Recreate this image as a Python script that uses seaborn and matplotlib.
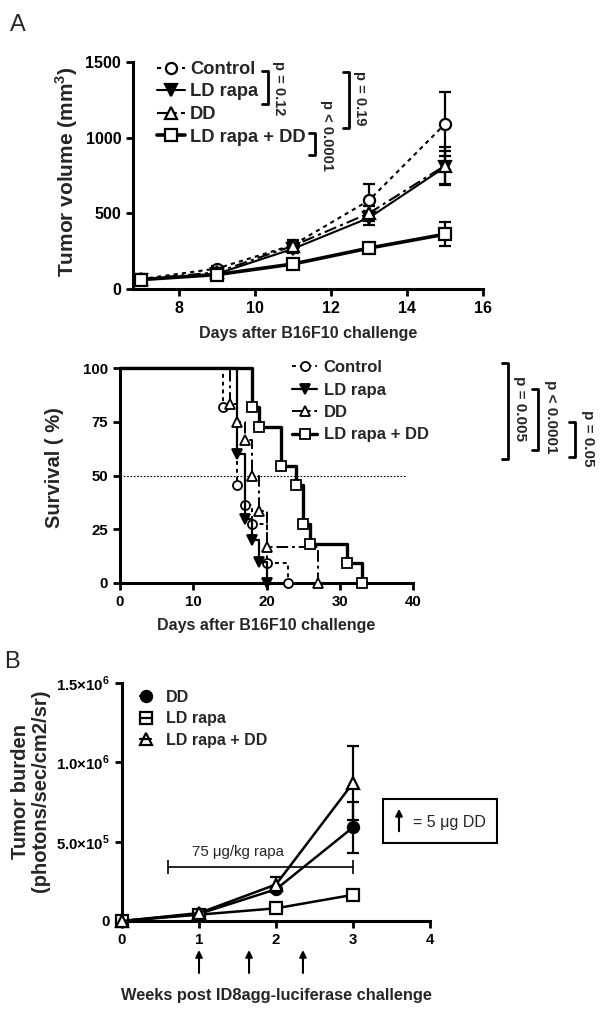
import numpy as np
import pandas as pd
import matplotlib
matplotlib.use("Agg")
import matplotlib.pyplot as plt
from matplotlib.lines import Line2D
from matplotlib.patches import Rectangle
import seaborn as sns

# ---- Panel A (top): tumor volume ----
days = [7, 9, 11, 13, 15]
vol_control = [65, 135, 290, 585, 1090]
vol_control_err = [10, 15, 35, 110, 210]
vol_ldrapa = [62, 100, 265, 470, 805]
vol_ldrapa_err = [8, 12, 30, 45, 110]
vol_dd = [65, 110, 285, 500, 815]
vol_dd_err = [8, 15, 35, 50, 125]
vol_combo = [62, 95, 165, 270, 362]
vol_combo_err = [8, 10, 15, 35, 80]

# ---- Panel A (bottom): Kaplan-Meier survival ----
surv_ctrl_t = [0, 14, 16, 17, 18, 20, 23]
surv_ctrl_s = [100, 81.8, 45.5, 36.4, 27.3, 9.1, 0]
surv_ld_t = [0, 16, 17, 18, 19, 20]
surv_ld_s = [100, 60, 30, 20, 10, 0]
surv_dd_t = [0, 15, 16, 17, 18, 19, 20, 27]
surv_dd_s = [100, 83.3, 75, 66.7, 50, 33.3, 16.7, 0]
surv_combo_t = [0, 18, 19, 22, 24, 25, 26, 31, 33]
surv_combo_s = [100, 81.8, 72.7, 54.5, 45.5, 27.3, 18.2, 9.1, 0]

# ---- Panel B: tumor burden ----
weeks = [0, 1, 2, 3]
burden_dd = [0, 45000, 200000, 590000]
burden_dd_err = [0, 8000, 20000, 160000]
burden_ld = [0, 40000, 80000, 165000]
burden_ld_err = [0, 5000, 8000, 15000]
burden_combo = [0, 50000, 230000, 870000]
burden_combo_err = [0, 8000, 50000, 235000]
burden_ticks = [0, 5e5, 1e6, 1.5e6]
burden_ticklabels = ["0", r"5.0×10$^{\mathbf{5}}$", r"1.0×10$^{\mathbf{6}}$", r"1.5×10$^{\mathbf{6}}$"]
dose_weeks = [1, 1.65, 2.35]
rapa_start, rapa_end = 0.6, 3.0

W, H = 606, 1015

sns.set_theme(style="ticks")
plt.rcParams['font.family'] = ['Liberation Sans', 'DejaVu Sans']
plt.rcParams['mathtext.fontset'] = 'custom'
plt.rcParams['mathtext.rm'] = 'Liberation Sans'
plt.rcParams['mathtext.bf'] = 'Liberation Sans:bold'
plt.rcParams['axes.linewidth'] = 2.2
plt.rcParams['xtick.major.width'] = 2.0
plt.rcParams['ytick.major.width'] = 2.0
plt.rcParams['xtick.major.size'] = 5
plt.rcParams['ytick.major.size'] = 5
plt.rcParams['xtick.color'] = 'black'
plt.rcParams['ytick.color'] = 'black'
plt.rcParams['axes.edgecolor'] = 'black'


def px_axes(fig, x0, y0, x1, y1):
    # axes box from pixel corners (top-left origin)
    return fig.add_axes([x0 / W, 1 - y1 / H, (x1 - x0) / W, (y1 - y0) / H])


def bracket(fig, x, y0, y1, label, tx, ty, size=10.5, w=6):
    xs = [(x - w) / W, x / W, x / W, (x - w) / W]
    ys = [1 - y0 / H, 1 - y0 / H, 1 - y1 / H, 1 - y1 / H]
    fig.add_artist(Line2D(xs, ys, color='black', lw=2.0, transform=fig.transFigure))
    fig.text(tx / W, 1 - ty / H, label, rotation=-90, ha='center', va='center',
             fontsize=size, fontweight='bold')


def style_ticks(ax, size):
    for lab in ax.get_xticklabels() + ax.get_yticklabels():
        lab.set_fontweight('bold')
        lab.set_fontsize(size)
    sns.despine(ax=ax)


fig = plt.figure(figsize=(W / 100, H / 100), dpi=100)

# ================= Panel A: tumor volume =================
ax1 = px_axes(fig, 133, 62, 483, 289)
series_a = [
    (vol_control, vol_control_err, 'Control', 'o', 'white', (0, (2, 2)), 1.5),
    (vol_ldrapa, vol_ldrapa_err, 'LD rapa', 'v', 'black', '-', 1.5),
    (vol_dd, vol_dd_err, 'DD', '^', 'white', (0, (6, 2, 1.5, 2)), 1.5),
    (vol_combo, vol_combo_err, 'LD rapa + DD', 's', 'white', '-', 2.6),
]
handles_a = []
for vals, err, name, mk, fc, ls, lw in series_a:
    df = pd.DataFrame({'day': days, 'vol': vals})
    sns.lineplot(data=df, x='day', y='vol', ax=ax1, color='black', linestyle=ls, lw=lw,
                 marker=mk, markersize=8, markerfacecolor=fc, markeredgecolor='black',
                 markeredgewidth=1.6, clip_on=False, zorder=3)
    ax1.errorbar(days, vals, yerr=err, fmt='none', ecolor='black', elinewidth=1.6,
                 capsize=4, capthick=1.6, zorder=2, clip_on=False)
    handles_a.append(Line2D([], [], color='black', linestyle=ls, lw=lw, marker=mk,
                            markersize=8, markerfacecolor=fc, markeredgecolor='black',
                            markeredgewidth=1.6, label=name))
ax1.set_xlim(6.8, 16)
ax1.set_ylim(0, 1500)
ax1.set_xticks([8, 10, 12, 14, 16])
ax1.set_yticks([0, 500, 1000, 1500])
ax1.set_xlabel('Days after B16F10 challenge', fontsize=11.5, fontweight='bold')
ax1.set_ylabel(r'Tumor volume (mm$^{\mathbf{3}}$)', fontsize=15, fontweight='bold')
ax1.xaxis.set_label_coords(0.5, -0.165)
ax1.yaxis.set_label_coords(-0.15, 0.515)
style_ticks(ax1, 11.5)
ax1.legend(handles=handles_a, loc='upper left', bbox_to_anchor=(157 / W, 1 - 61 / H),
           bbox_transform=fig.transFigure, frameon=False, borderpad=0, borderaxespad=0,
           handlelength=1.5, handletextpad=0.3, labelspacing=0.3,
           prop={'weight': 'bold', 'size': 13.2})
bracket(fig, 268, 71, 104, 'p = 0.12', 279, 88)
bracket(fig, 315, 133, 155, 'p < 0.0001', 327, 135)
bracket(fig, 349, 72, 128, 'p = 0.19', 360, 98)
fig.text(10 / W, 1 - 31 / H, 'A', fontsize=17, ha='left', va='baseline')

# ================= Panel A: survival =================
ax2 = px_axes(fig, 120, 368, 413, 583)
series_s = [
    (surv_ctrl_t, surv_ctrl_s, 'Control', 'o', 'white', (0, (2, 2)), 1.4),
    (surv_ld_t, surv_ld_s, 'LD rapa', 'v', 'black', '-', 1.6),
    (surv_dd_t, surv_dd_s, 'DD', '^', 'white', (0, (6, 2, 1.5, 2)), 1.4),
    (surv_combo_t, surv_combo_s, 'LD rapa + DD', 's', 'white', '-', 2.4),
]
handles_s = []
for t, s, name, mk, fc, ls, lw in series_s:
    df = pd.DataFrame({'t': t, 's': s})
    sns.lineplot(data=df, x='t', y='s', ax=ax2, color='black', linestyle=ls, lw=lw,
                 drawstyle='steps-post', marker=mk, markevery=list(range(1, len(t))),
                 markersize=6.5, markerfacecolor=fc, markeredgecolor='black',
                 markeredgewidth=1.3, clip_on=False, zorder=3)
    handles_s.append(Line2D([], [], color='black', linestyle=ls, lw=lw, marker=mk,
                            markersize=6.5, markerfacecolor=fc, markeredgecolor='black',
                            markeredgewidth=1.3, label=name))
ax2.plot([0, 39], [50, 50], color='black', lw=0.8, linestyle=(0, (1.5, 1.5)), zorder=1)
ax2.set_xlim(0, 40)
ax2.set_ylim(0, 100)
ax2.set_xticks([0, 10, 20, 30, 40])
ax2.set_yticks([0, 25, 50, 75, 100])
ax2.set_xlabel('Days after B16F10 challenge', fontsize=11.5, fontweight='bold')
ax2.set_ylabel('Survival ( %)', fontsize=14.5, fontweight='bold')
ax2.xaxis.set_label_coords(0.5, -0.165)
ax2.yaxis.set_label_coords(-0.19, 0.535)
style_ticks(ax2, 10.8)
ax2.legend(handles=handles_s, loc='upper left', bbox_to_anchor=(292 / W, 1 - 360 / H),
           bbox_transform=fig.transFigure, frameon=False, borderpad=0, borderaxespad=0,
           handlelength=1.5, handletextpad=0.4, labelspacing=0.45,
           prop={'weight': 'bold', 'size': 12})
bracket(fig, 508, 363, 459, 'p = 0.005', 520, 408, size=11)
bracket(fig, 538, 389, 450, 'p < 0.0001', 551, 417, size=11)
bracket(fig, 575, 422, 457, 'p = 0.05', 588, 438, size=11)

# ================= Panel B: tumor burden =================
ax3 = px_axes(fig, 122, 683, 430, 921)
series_b = [
    (burden_dd, burden_dd_err, 'DD', 'o', 'black'),
    (burden_ld, burden_ld_err, 'LD rapa', 's', 'white'),
    (burden_combo, burden_combo_err, 'LD rapa + DD', '^', 'white'),
]
handles_b = []
for vals, err, name, mk, fc in series_b:
    df = pd.DataFrame({'week': weeks, 'burden': vals})
    sns.lineplot(data=df, x='week', y='burden', ax=ax3, color='black', lw=1.8,
                 marker=mk, markersize=8, markerfacecolor=fc, markeredgecolor='black',
                 markeredgewidth=1.6, clip_on=False, zorder=3)
    ax3.errorbar(weeks, vals, yerr=err, fmt='none', ecolor='black', elinewidth=1.6,
                 capsize=4, capthick=1.6, zorder=2, clip_on=False)
    handles_b.append(Line2D([], [], color='black', lw=1.6, marker=mk, markersize=8,
                            markerfacecolor='black' if fc == 'black' else 'none',
                            markeredgecolor='black', markeredgewidth=1.6, label=name))
# rapamycin treatment window
ax3.errorbar([(rapa_start + rapa_end) / 2], [342000], xerr=[(rapa_end - rapa_start) / 2],
             fmt='none', ecolor='black', elinewidth=1.2, capsize=5, capthick=1.2)
ax3.text((rapa_start + rapa_end) / 2 - 0.29, 435000, '75 μg/kg rapa', fontsize=10.8,
         ha='center', va='center')
for wk in dose_weeks:
    ax3.annotate('', xy=(wk, -0.11), xytext=(wk, -0.23),
                 xycoords=('data', 'axes fraction'), textcoords=('data', 'axes fraction'),
                 arrowprops=dict(arrowstyle='-|>', color='black', lw=1.5, mutation_scale=10),
                 annotation_clip=False)
ax3.set_xlim(0, 4)
ax3.set_ylim(0, 1.5e6)
ax3.set_xticks([0, 1, 2, 3, 4])
ax3.set_yticks(burden_ticks)
ax3.set_yticklabels(burden_ticklabels)
ax3.set_xlabel('Weeks post ID8agg-luciferase challenge', fontsize=11.8, fontweight='bold')
ax3.set_ylabel('Tumor burden\n(photons/sec/cm2/sr)', fontsize=14.5, fontweight='bold',
               linespacing=1.05)
ax3.xaxis.set_label_coords(0.5, -0.28)
ax3.yaxis.set_label_coords(-0.235, 0.546)
style_ticks(ax3, 10.8)
ax3.legend(handles=handles_b, loc='upper left', bbox_to_anchor=(140 / W, 1 - 690 / H),
           bbox_transform=fig.transFigure, frameon=False, borderpad=0, borderaxespad=0,
           handlelength=0.7, handletextpad=0.9, labelspacing=0.4,
           prop={'weight': 'bold', 'size': 11.5})
fig.text(4 / W, 1 - 668 / H, 'B', fontsize=17, ha='left', va='baseline')

# key box: arrow = 5 ug DD
fig.add_artist(Rectangle((383 / W, 1 - 843 / H), (497 - 383) / W, (843 - 799) / H,
                         fill=False, lw=1.5, edgecolor='black', transform=fig.transFigure))
fig.add_artist(matplotlib.patches.FancyArrowPatch((399 / W, 1 - 834 / H), (399 / W, 1 - 806 / H),
                                                  arrowstyle='-|>', mutation_scale=10, lw=1.5,
                                                  color='black', transform=fig.transFigure))
fig.text(413 / W, 1 - 822 / H, '= 5 μg DD', fontsize=11.5, ha='left', va='center')

fig.savefig('out.png', dpi=100)
